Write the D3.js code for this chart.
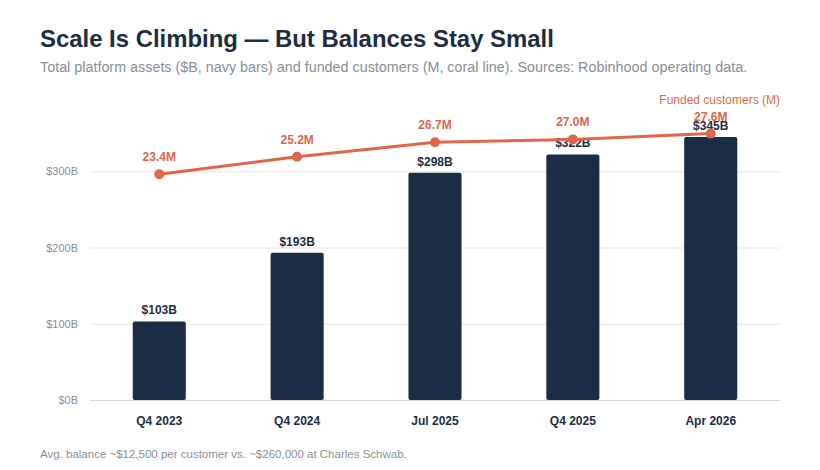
<!DOCTYPE html>
<html><head><meta charset="utf-8">
<script src="https://cdn.jsdelivr.net/npm/d3@7"></script>
<style>body{margin:0;background:#fff;font-family:"Liberation Sans",Arial,sans-serif}</style>
</head><body><svg id="c" width="820" height="470"></svg>
<script>
const categories = ["Q4 2023","Q4 2024","Jul 2025","Q4 2025","Apr 2026"];
const assets = [103,193,298,322,345];
const customers = [23.4,25.2,26.7,27.0,27.6];
const assetTicks = [0,100,200,300];

const navy="#1b2d45", coral="#e0664a";
const svg=d3.select("#c");
svg.append("rect").attr("width",820).attr("height",470).attr("fill","#fff");
const x=d3.scaleBand().domain(categories).range([90,780]).paddingInner(0.615).paddingOuter(0.31);
const y=d3.scaleLinear().domain([0,400]).range([400,95]);
const y2=d3.scaleLinear().domain([0,31.6]).range([400,95]);

svg.append("text").attr("x",40).attr("y",47).attr("font-size",23.9).attr("font-weight","bold").attr("fill","#1d2d3f").text("Scale Is Climbing — But Balances Stay Small");
svg.append("text").attr("x",40).attr("y",72).attr("font-size",14.35).attr("fill","#8a8f96").text("Total platform assets ($B, navy bars) and funded customers (M, coral line). Sources: Robinhood operating data.");
svg.append("text").attr("x",40).attr("y",458).attr("font-size",11.5).attr("fill","#8a8f96").text("Avg. balance ~$12,500 per customer vs. ~$260,000 at Charles Schwab.");

const ga=svg.append("g").attr("transform","translate(90,0)").call(d3.axisLeft(y).tickValues(assetTicks).tickSize(-690).tickFormat(d=>"$"+d+"B"));
ga.select(".domain").remove();
ga.selectAll("line").attr("stroke","#e8e8e8");
ga.selectAll("text").attr("fill","#8a8f96").attr("font-size",11).attr("x",-12);
ga.selectAll(".tick").filter(d=>d===0).select("line").attr("stroke","#d6d6d6");

const gx=svg.append("g").attr("transform","translate(0,400)").call(d3.axisBottom(x).tickSize(0).tickPadding(16));
gx.select(".domain").remove();
gx.selectAll("text").attr("fill","#1d2d3f").attr("font-size",12).attr("font-weight","bold");

svg.selectAll(".bar").data(assets).enter().append("rect")
 .attr("x",(d,i)=>x(categories[i])).attr("width",x.bandwidth())
 .attr("y",d=>y(d)).attr("height",d=>400-y(d)).attr("rx",2).attr("fill",navy);
svg.selectAll(".bl").data(assets).enter().append("text")
 .attr("x",(d,i)=>x(categories[i])+x.bandwidth()/2).attr("y",d=>y(d)-7)
 .attr("text-anchor","middle").attr("font-size",12).attr("font-weight","bold").attr("fill","#1d2d3f").text(d=>"$"+d+"B");

const cx=(d,i)=>x(categories[i])+x.bandwidth()/2;
svg.append("path").datum(customers).attr("fill","none").attr("stroke",coral).attr("stroke-width",3)
 .attr("d",d3.line().x(cx).y(d=>y2(d)));
svg.selectAll(".pt").data(customers).enter().append("circle").attr("cx",cx).attr("cy",d=>y2(d)).attr("r",5).attr("fill",coral);
svg.selectAll(".pl").data(customers).enter().append("text").attr("x",cx).attr("y",d=>y2(d)-13)
 .attr("text-anchor","middle").attr("font-size",12).attr("font-weight","bold").attr("fill",coral).text(d=>d.toFixed(1)+"M");
svg.append("text").attr("x",780).attr("y",104).attr("text-anchor","end").attr("font-size",12).attr("fill",coral).text("Funded customers (M)");
</script></body></html>
